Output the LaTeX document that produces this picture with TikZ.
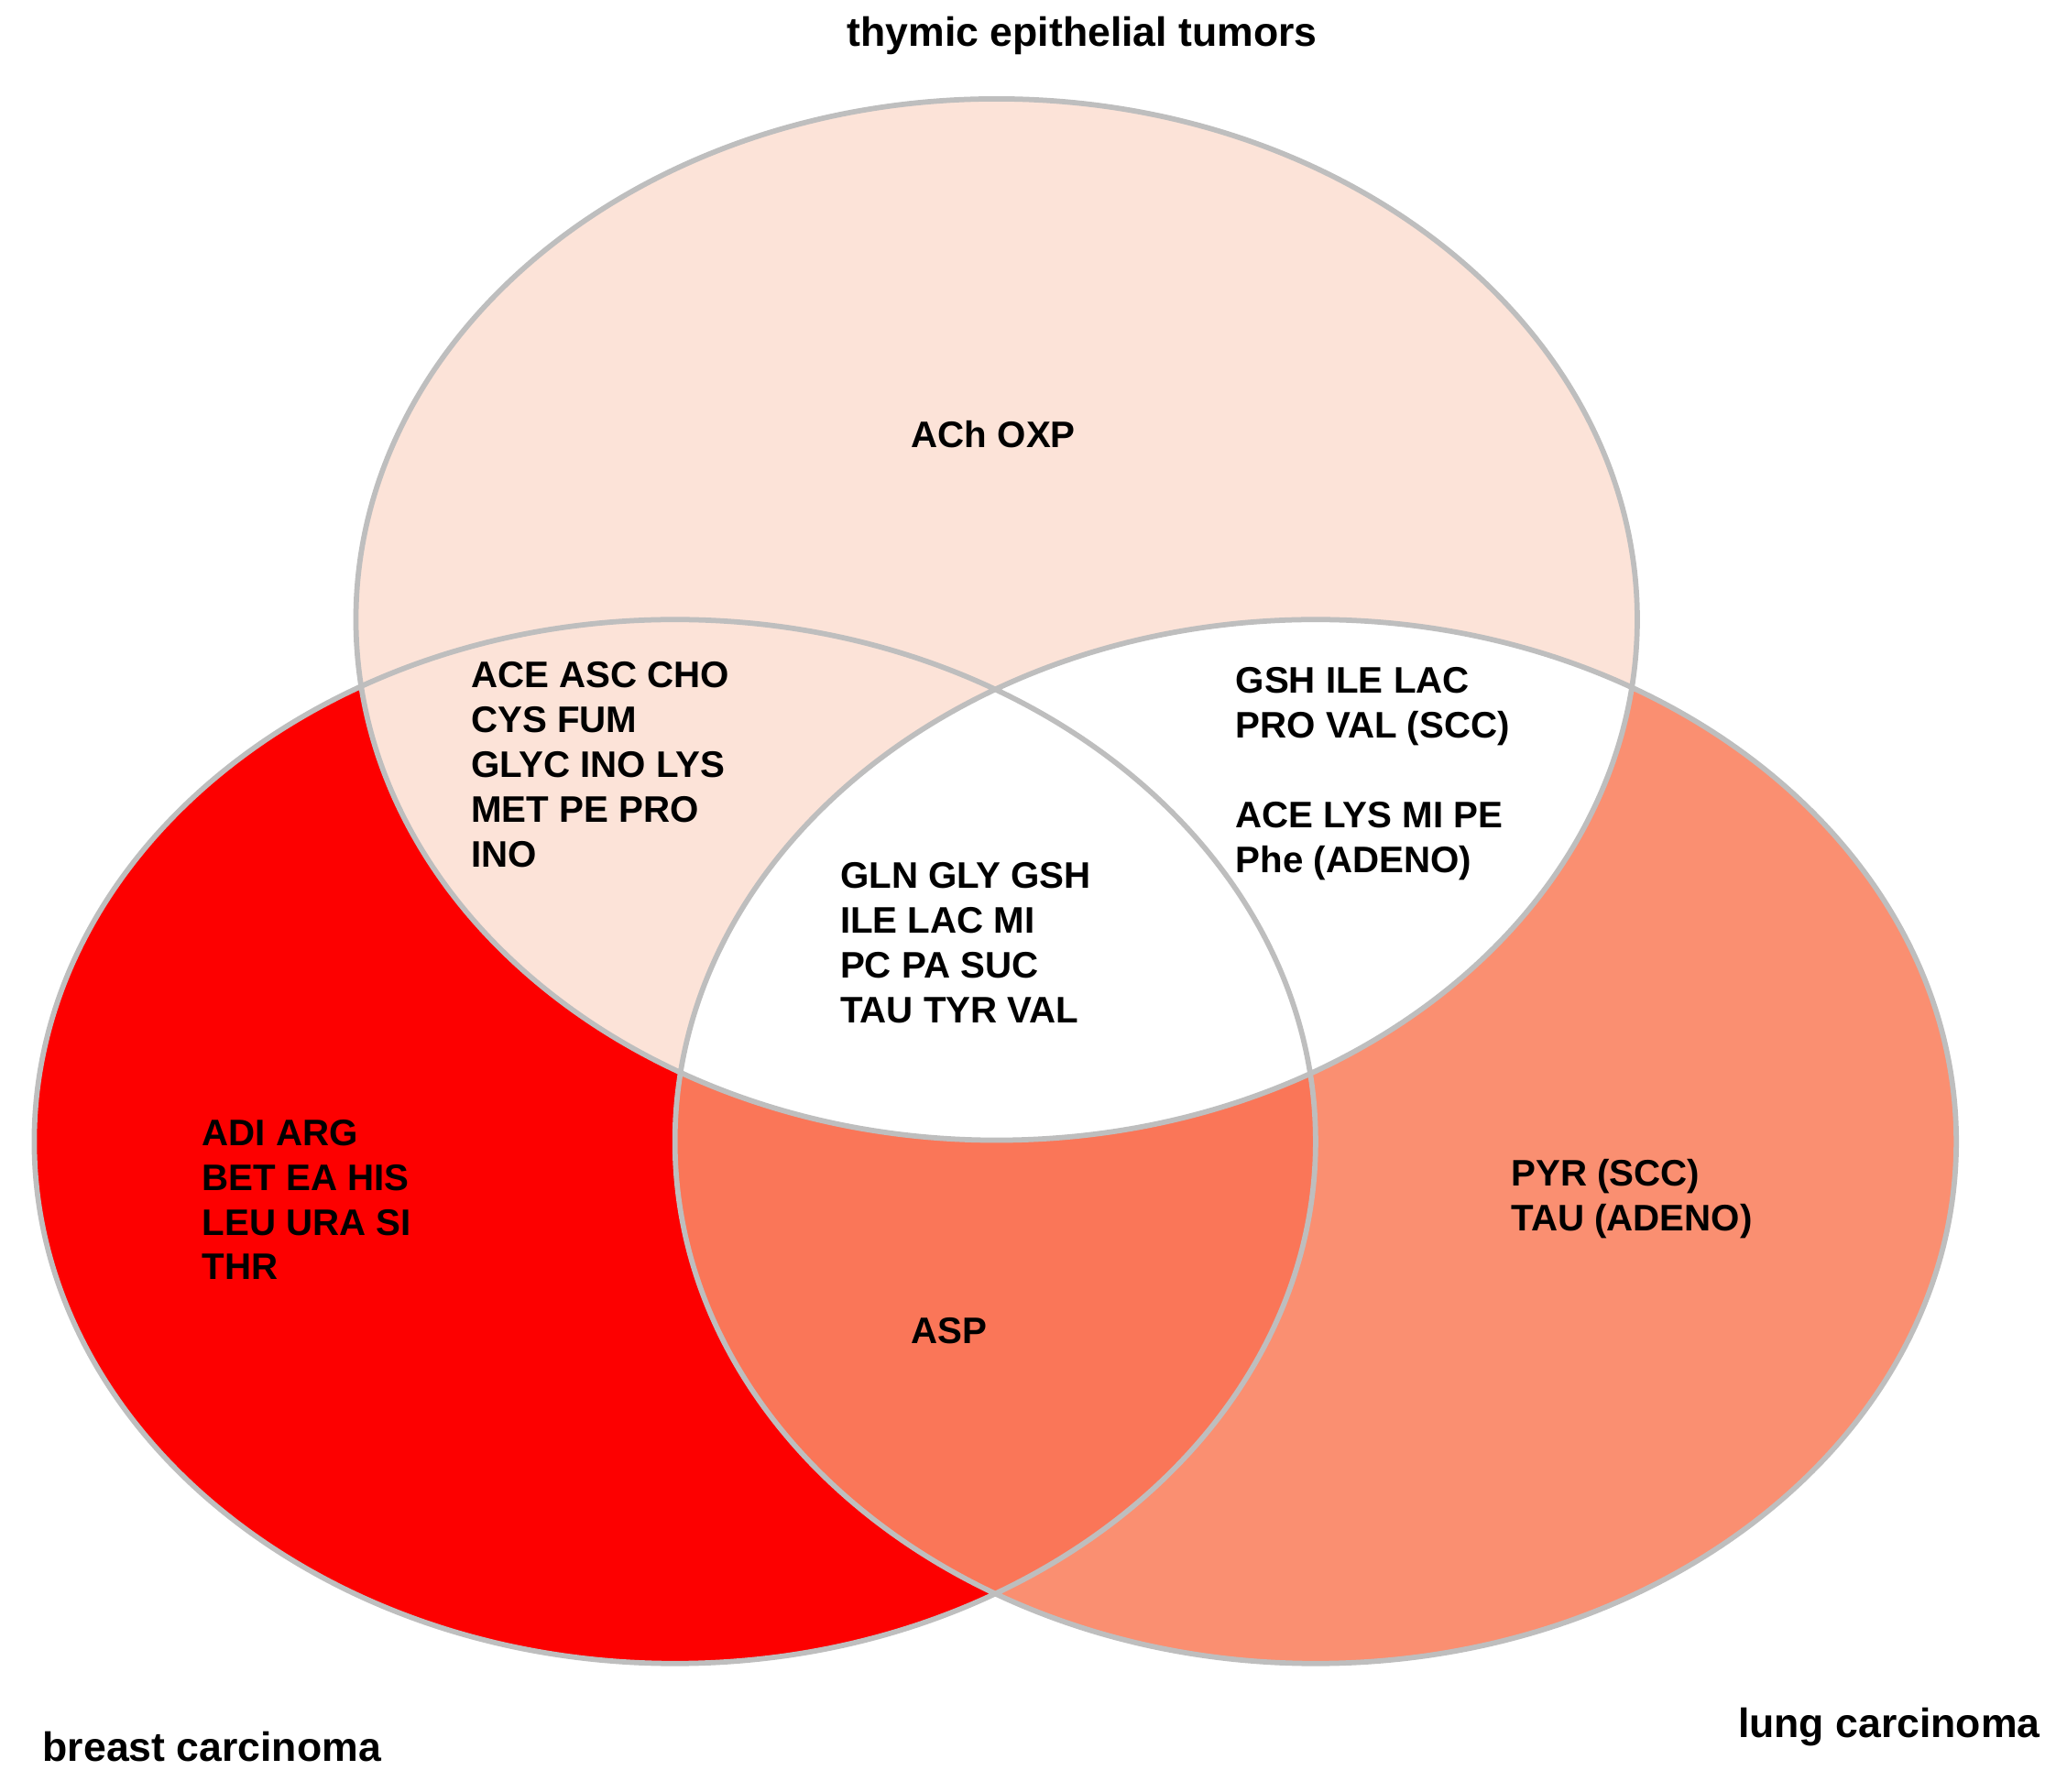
\documentclass[tikz,border=0pt]{standalone}
\usepackage{fontspec}
\setmainfont{Liberation Sans}
\definecolor{topc}{RGB}{252,227,216}
\definecolor{leftc}{RGB}{253,0,0}
\definecolor{rightc}{RGB}{250,143,113}
\definecolor{lrc}{RGB}{250,118,88}
\definecolor{edge}{RGB}{190,190,190}
\begin{document}
\begin{tikzpicture}[x=0.5pt,y=-0.5pt,
 lbl/.style={font=\bfseries\fontsize{14}{17}\selectfont,align=left,anchor=north west,inner sep=0},
 ttl/.style={font=\bfseries\fontsize{15.5}{18}\selectfont,inner sep=0}]
\useasboundingbox (0,0) rectangle (1568,1359);
\def\topE{(756,470) ellipse [x radius=486,y radius=395]}
\def\leftE{(512,866) ellipse [x radius=486,y radius=396]}
\def\rightE{(998,866) ellipse [x radius=486,y radius=396]}
\fill[leftc] \leftE;
\fill[rightc] \rightE;
\begin{scope}\clip \leftE; \fill[lrc] \rightE; \end{scope}
\fill[topc] \topE;
\begin{scope}\clip \topE; \fill[white] \rightE; \end{scope}
\draw[edge,line width=2] \topE \leftE \rightE;
\node[ttl] (t1) at (821,27) {thymic epithelial tumors};
\node[ttl,anchor=west] (t2) at (32,1325) {breast carcinoma};
\node[ttl,anchor=east] (t3) at (1548,1310) {lung carcinoma};
\node[lbl] (a) at (691,319) {ACh OXP};
\node[lbl] (b) at (357,502) {ACE ASC CHO\\CYS FUM\\GLYC INO LYS\\MET PE PRO\\INO};
\node[lbl] (c) at (937,506) {GSH ILE LAC\\PRO VAL (SCC)\\[17pt]ACE LYS MI PE\\Phe (ADENO)};
\node[lbl] (d) at (637,654) {GLN GLY GSH\\ILE LAC MI\\PC PA SUC\\TAU TYR VAL};
\node[lbl] (e) at (153,849) {ADI ARG\\BET EA HIS\\LEU URA SI\\THR};
\node[lbl] (f) at (1146,879) {PYR (SCC)\\TAU (ADENO)};
\node[lbl] (g) at (691,999) {ASP};
\end{tikzpicture}
\end{document}
